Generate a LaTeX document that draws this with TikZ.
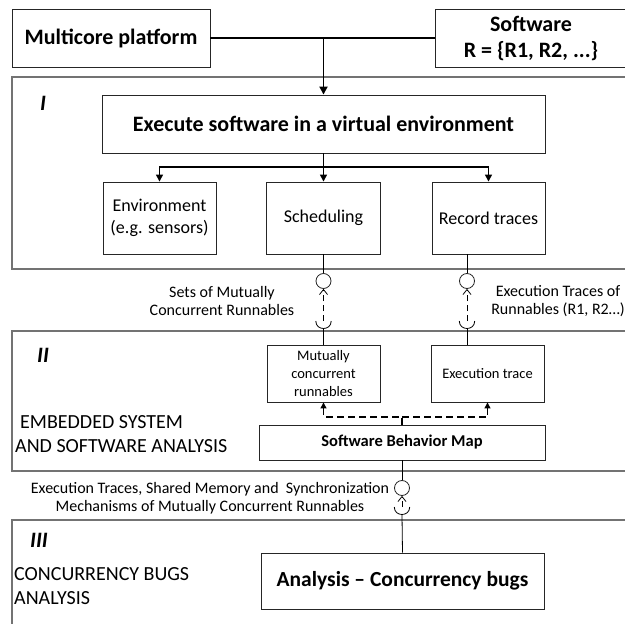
\documentclass[tikz,border=0pt]{standalone}
\usepackage{fontspec}
\setmainfont{Carlito}
\usetikzlibrary{arrows.meta,calc,positioning}

\begin{document}
\begin{tikzpicture}[x=1pt,y=-1pt,font=\fontsize{16}{18}\selectfont,
  blk/.style={draw=black!85,line width=0.9pt,align=center,inner sep=0pt},
  big/.style={font=\fontsize{22}{26}\selectfont\bfseries},
  mid/.style={font=\fontsize{18}{22}\selectfont},
  tiny/.style={font=\fontsize{14.5}{18}\selectfont},
  sect/.style={font=\fontsize{22}{24}\selectfont\bfseries\itshape},
  panel/.style={black!55,line width=1.5pt},
  iface/.style={circle,draw=black!85,line width=0.8pt,minimum size=15pt,inner sep=0pt},
  sock/.style={circle,minimum size=15pt,inner sep=0pt},
  feed/.style={line width=1.8pt,-{Triangle[length=8pt,width=8pt]}},
  fork/.style={line width=1.4pt,-{Triangle[length=7pt,width=7pt]}},
  link/.style={line width=0.8pt},
  req/.style={line width=0.8pt,dash pattern=on 6pt off 4pt,-{Straight Barb[length=5pt,width=8pt]}},
  map/.style={line width=1.1pt,dash pattern=on 7pt off 4pt,-{Triangle[length=6pt,width=6pt]}}]
\useasboundingbox (0,0) rectangle (625,624);

% stage frames (open to the right)
\draw[panel] (630,77) -- (12,77) -- (12,269) -- (630,269);
\draw[panel] (630,331) -- (12,331) -- (12,471) -- (630,471);
\draw[panel] (630,520) -- (12,520) -- (12,630);

\node[sect] (stI) at (43,103) {I};
\node[sect] (stII) at (43,355) {II};
\node[sect] (stIII) at (39,540) {III};

% inputs
\node[blk,big,minimum width=198pt,minimum height=58pt] (mcp) at (111,38) {Multicore platform};
\node[blk,big,minimum width=192pt,minimum height=58pt] (sw) at (531,38) {Software\\R = \{R1, R2, ...\}};

% stage I
\node[blk,big,minimum width=443pt,minimum height=58pt] (exe) at (323.5,124) {Execute software in a virtual environment};
\node[blk,mid,minimum width=113pt,minimum height=72pt] (env) at (159.5,218) {Environment\\(e.g. sensors)};
\node[blk,mid,minimum width=114pt,minimum height=72pt] (sched) at (323.5,218) {Scheduling};
\node[blk,mid,minimum width=113pt,minimum height=72pt] (rec) at (488.5,218) {Record traces};

\coordinate (top) at (mcp.east -| exe.north);
\coordinate (br) at (323.5,167);
\draw[line width=1.8pt] (mcp.east) -- (sw.west);
\draw[feed] (top) -- (exe.north);
\draw[line width=1.4pt] (exe.south) -- (br);
\draw[fork] (br) -- (sched.north);
\draw[fork] (br) -| (env.north);
\draw[fork] (br) -| (rec.north);

% stage II
\node[blk,tiny,minimum width=113pt,minimum height=57pt] (mut) at (323.5,373.5) {Mutually\\concurrent\\runnables};
\node[blk,tiny,minimum width=113pt,minimum height=57pt] (trc) at (487.5,373.5) {Execution trace};
\node[blk,font=\fontsize{16.5}{20}\selectfont\bfseries,minimum width=286pt,minimum height=35pt] (sbm) at (402,442.5) {Software Behavior Map};
\node[anchor=west,align=left,inner sep=0pt,font=\fontsize{20}{24}\selectfont] (embd) at (15,434) {\hspace*{5pt}EMBEDDED SYSTEM\\AND SOFTWARE ANALYSIS};

\coordinate (mj) at (402,417);
\draw[map] (sbm.north) -- (mj) -| (mut.south);
\draw[map] (mj) -| (trc.south);

% stage III
\node[blk,font=\fontsize{21.5}{25}\selectfont\bfseries,minimum width=283pt,minimum height=56pt] (ana) at (402.5,581) {Analysis -- Concurrency bugs};
\node[anchor=west,align=left,inner sep=0pt,font=\fontsize{20}{24}\selectfont] (cbug) at (14,586) {CONCURRENCY BUGS\\ANALYSIS};

% provided / required interfaces between stages
\node[iface] (c1) at (323.5,281) {};
\node[sock] (s1) at (323.5,321) {};
\node[iface] (c2) at (467,281) {};
\node[sock] (s2) at (467,321) {};
\node[iface] (c3) at (402,488) {};
\node[sock] (s3) at (402,507) {};
\foreach \s in {s1,s2,s3}
  \draw[link] (\s.west) .. controls +(0,10) and +(0,10) .. (\s.east);

\draw[link] (sched.south) -- (c1.north);
\draw[link] (c2 |- rec.south) -- (c2.north);
\draw[link] (sbm.south) -- (c3.north);
\draw[req] (s1.center) -- (c1.south);
\draw[req] (s2.center) -- (c2.south);
\draw[req] (s3.center) -- (c3.south);
\draw[link] (s1.south) -- (mut.north);
\draw[link] (s2.south) -- (s2.south |- trc.north);
\draw[link] (s3.south) -- (ana.north);

\node[align=center] (lsets) at (222,301) {Sets of Mutually\\Concurrent Runnables};
\node[align=center] (ltrc) at (558,301) {Execution Traces of\\Runnables (R1, R2…)};
\node[align=center,font=\fontsize{16}{17.5}\selectfont] (lmem) at (210,498) {Execution Traces, Shared Memory and\ \ Synchronization\\Mechanisms of Mutually Concurrent Runnables};
\end{tikzpicture}
\end{document}
